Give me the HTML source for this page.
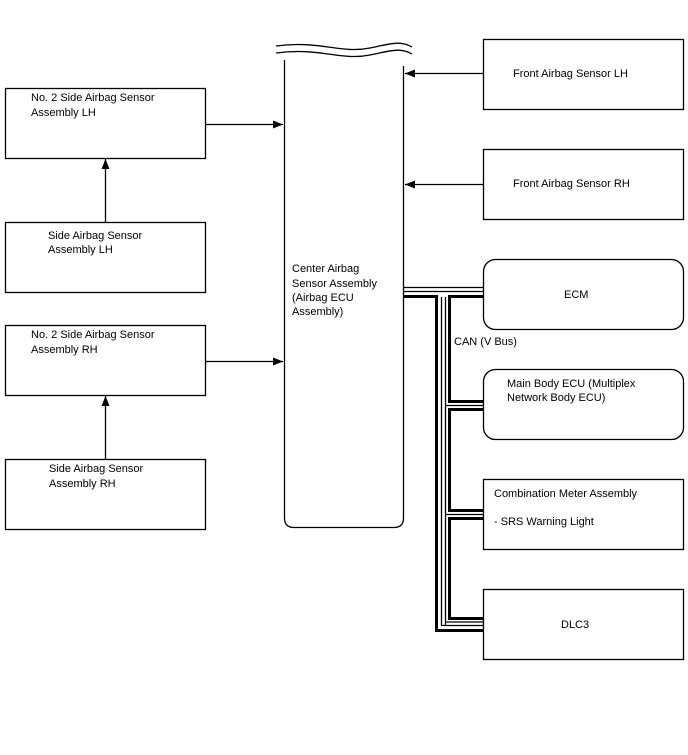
<!DOCTYPE html>
<html><head><meta charset="utf-8"><style>
html,body{margin:0;padding:0;background:#fff;}
svg{display:block;}
text{font-family:"Liberation Sans",Arial,sans-serif;font-size:11px;fill:#000;}
</style></head><body>
<svg width="688" height="755" viewBox="0 0 688 755" xmlns="http://www.w3.org/2000/svg">
<defs><marker id="a" markerWidth="10" markerHeight="8" refX="10" refY="4" orient="auto" markerUnits="userSpaceOnUse"><path d="M0,0 L10,4 L0,8 z" fill="#000"/></marker></defs>
<g fill="none" stroke="#000" stroke-width="1.3">
<!-- left boxes -->
<rect x="5.5" y="88.5" width="200" height="70"/>
<rect x="5.5" y="222.5" width="200" height="70"/>
<rect x="5.5" y="325.5" width="200" height="70"/>
<rect x="5.5" y="459.5" width="200" height="70"/>
<!-- center -->
<path d="M284.5,60 V518 Q284.5,527.5 294,527.5 H394 Q403.5,527.5 403.5,518 V66"/>
<path d="M276,46 C320,40 340,54 370,48 C390,44 400,40 412,47"/>
<path d="M276,53 C320,47 340,61 370,55 C390,51 400,47 412,54"/>
<!-- right boxes -->
<rect x="483.5" y="39.5" width="200" height="70"/>
<rect x="483.5" y="149.5" width="200" height="70"/>
<rect x="483.5" y="259.5" width="200" height="70" rx="12"/>
<rect x="483.5" y="369.5" width="200" height="70" rx="12"/>
<rect x="483.5" y="479.5" width="200" height="70"/>
<rect x="483.5" y="589.5" width="200" height="70"/>
<!-- arrows -->
<line x1="205.5" y1="124.5" x2="283" y2="124.5" marker-end="url(#a)"/>
<line x1="205.5" y1="361.5" x2="283" y2="361.5" marker-end="url(#a)"/>
<line x1="105.5" y1="222" x2="105.5" y2="159" marker-end="url(#a)"/>
<line x1="105.5" y1="459" x2="105.5" y2="396" marker-end="url(#a)"/>
<line x1="483" y1="73.5" x2="405" y2="73.5" marker-end="url(#a)"/>
<line x1="483" y1="184.5" x2="405" y2="184.5" marker-end="url(#a)"/>
<!-- bus thin -->
<path d="M403,287.5 H483"/>
<path d="M403,291.5 H483"/>
<path d="M441.5,297 V625.5 H483"/>
<path d="M445.5,297 V625 M445,405.5 H483 M445,514.5 H483 M445,622 H483"/>
</g>
<g fill="none" stroke="#000" stroke-width="3">
<path d="M403,296.5 H436.5 V630.5 H483"/>
<path d="M483,296.5 H449.5 V401.5 H483"/>
<path d="M483,409.5 H449.5 V510.5 H483"/>
<path d="M483,518.5 H449.5 V618.5 H483"/>
</g>
<text x="31" y="101">No. 2 Side Airbag Sensor</text>
<text x="31" y="116">Assembly LH</text>
<text x="48" y="239">Side Airbag Sensor</text>
<text x="48" y="253">Assembly LH</text>
<text x="31" y="338">No. 2 Side Airbag Sensor</text>
<text x="31" y="353">Assembly RH</text>
<text x="49" y="472">Side Airbag Sensor</text>
<text x="49" y="487">Assembly RH</text>
<text x="292" y="272">Center Airbag</text>
<text x="292" y="287">Sensor Assembly</text>
<text x="292" y="301">(Airbag ECU</text>
<text x="292" y="315">Assembly)</text>
<text x="513" y="77">Front Airbag Sensor LH</text>
<text x="513" y="187">Front Airbag Sensor RH</text>
<text x="564" y="298">ECM</text>
<text x="454" y="345">CAN (V Bus)</text>
<text x="507" y="387">Main Body ECU (Multiplex</text>
<text x="507" y="401">Network Body ECU)</text>
<text x="494" y="497">Combination Meter Assembly</text>
<text x="494" y="525">- SRS Warning Light</text>
<text x="561" y="628">DLC3</text>
</svg>
</body></html>
